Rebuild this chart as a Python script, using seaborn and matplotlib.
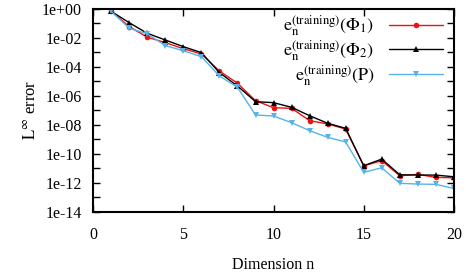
import numpy as np
import pandas as pd
import matplotlib
matplotlib.use("Agg")
import matplotlib.pyplot as plt
from matplotlib.ticker import FixedLocator, FuncFormatter, NullFormatter
import seaborn as sns

sns.set_style("ticks")
plt.rcParams['font.family'] = ['Liberation Serif', 'DejaVu Serif']
plt.rcParams['mathtext.fontset'] = 'stix'
plt.rcParams.update({'text.color': 'black', 'axes.labelcolor': 'black',
                     'xtick.color': 'black', 'ytick.color': 'black',
                     'axes.edgecolor': 'black'})

# log10 of the errors
dims = list(range(1, 21))
log_phi1 = [-0.19, -1.24, -1.97, -2.34, -2.76, -3.12, -4.30, -5.14, -6.34, -6.83,
            -6.87, -7.72, -7.95, -8.30, -10.83, -10.48, -11.52, -11.42, -11.63, -11.66]
log_phi2 = [-0.19, -0.97, -1.70, -2.16, -2.62, -3.03, -4.41, -5.33, -6.41, -6.48,
            -6.80, -7.38, -7.90, -8.25, -10.83, -10.37, -11.45, -11.47, -11.47, -11.59]
log_p = [-0.19, -1.35, -1.74, -2.55, -2.90, -3.31, -4.64, -5.42, -7.33, -7.40,
         -7.86, -8.41, -8.87, -9.19, -11.28, -10.97, -12.04, -12.09, -12.11, -12.39]

labels = [r'$\mathrm{e}_\mathrm{n}^{(\mathrm{training})}(\Phi_1)$',
          r'$\mathrm{e}_\mathrm{n}^{(\mathrm{training})}(\Phi_2)$',
          r'$\mathrm{e}_\mathrm{n}^{(\mathrm{training})}(\mathrm{P})$']
colors = ['#ee1111', 'black', '#56b4e9']
markers = ['o', '^', 'v']

fig = plt.figure(figsize=(4.66, 2.79), dpi=100)
ax = fig.add_axes([0.2, 0.241, 0.774, 0.728])

for vals, lab, c, m in zip([log_phi1, log_phi2, log_p], labels, colors, markers):
    df = pd.DataFrame({'n': dims, 'err': 10.0 ** np.array(vals)})
    sns.lineplot(data=df, x='n', y='err', ax=ax, color=c, marker=m,
                 markersize=4, markeredgewidth=0, linewidth=1, label=lab)

ax.set_yscale('log')
ax.set_xlim(0, 20)
ax.set_ylim(1e-14, 1e0)
ax.set_xticks([0, 5, 10, 15, 20])
ax.yaxis.set_major_locator(FixedLocator([10.0 ** k for k in range(0, -15, -2)]))
ax.yaxis.set_minor_locator(FixedLocator([10.0 ** k for k in range(-1, -14, -2)]))
ax.yaxis.set_major_formatter(FuncFormatter(lambda v, p: f"{v:.0e}"))
ax.yaxis.set_minor_formatter(NullFormatter())
ax.tick_params(which='both', direction='in', top=True, right=True, labelsize=11.5)
ax.tick_params(which='major', length=5, width=1)
ax.tick_params(which='minor', length=5, width=1)
ax.tick_params(axis='x', which='major', pad=11)
ax.tick_params(axis='y', which='major', pad=8)
ax.tick_params(axis='x', which='minor', top=False, bottom=False)
for s in ax.spines.values():
    s.set_linewidth(1.5)

ax.set_xlabel('Dimension n', fontsize=11.5, labelpad=10)
ax.set_ylabel(r'$\mathrm{L}^{\infty}$ error', fontsize=12, labelpad=2)

ax.legend(loc='upper right', frameon=False, markerfirst=False, fontsize=13,
          handlelength=3, labelspacing=0.0, borderaxespad=0.1,
          bbox_to_anchor=(0.995, 1.02))

fig.savefig('out.png', dpi=100)
